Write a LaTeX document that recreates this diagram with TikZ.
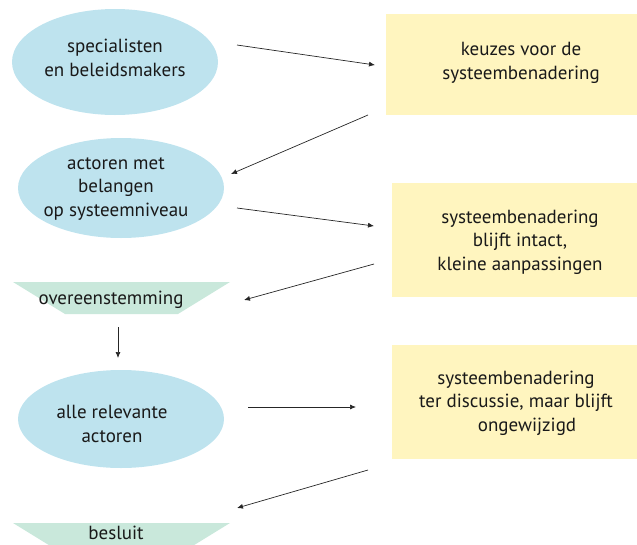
\documentclass[tikz,border=0pt]{standalone}
\usepackage{fontspec}
\setmainfont{PT Sans}
\usetikzlibrary{arrows.meta}
\definecolor{ellblue}{HTML}{BEE3EE}
\definecolor{boxyellow}{HTML}{FFF5BF}
\definecolor{trapgreen}{HTML}{C9E8DB}
\tikzset{
  lbl/.style={align=center, font=\fontsize{19}{23.5}\selectfont, text=black!90, inner sep=0pt},
  flow/.style={-{Latex[length=6pt,width=5pt]}, line width=0.7pt, black!85},
}
\begin{document}
\begin{tikzpicture}[x=1pt,y=-1pt]
\useasboundingbox (0,0) rectangle (637,544);
\clip (0,0) rectangle (637,544);

% actor ellipses
\fill[ellblue] (115,62) ellipse [x radius=103, y radius=53];
\fill[ellblue] (121,188) ellipse [x radius=103, y radius=50];
\fill[ellblue] (121,419) ellipse [x radius=103, y radius=49];

% outcome trapezia
\fill[trapgreen] (13,282) -- (230,282) -- (178,314) -- (65,314) -- cycle;
\fill[trapgreen] (13,523) -- (230,523) -- (178,555) -- (65,555) -- cycle;

% choice boxes
\fill[boxyellow] (386,14) rectangle (637,115);
\fill[boxyellow] (392,183) rectangle (637,297);
\fill[boxyellow] (392,345) rectangle (637,459);

% labels
\node[lbl] (e1) at (115,58) {specialisten\\en beleidsmakers};
\node[lbl] (e2) at (116,189) {actoren met\\belangen\\op systeemniveau};
\node[lbl] (e3) at (112,424) {alle relevante\\actoren};
\node[lbl] (t1) at (111,300) {overeenstemming};
\node[lbl] (t2) at (116,533) {besluit};
\node[lbl] (b1) at (521,63) {keuzes voor de\\systeembenadering};
\node[lbl] (b2) at (520,242) {systeembenadering\\blijft intact,\\kleine aanpassingen};
\node[lbl] (b3) at (516,403) {systeembenadering\\ter discussie, maar blijft\\\hspace*{22pt}ongewijzigd};

% connector end points
\coordinate (a1s) at (237,45);  \coordinate (a1e) at (375,65);
\coordinate (a2s) at (368,115); \coordinate (a2e) at (231,174);
\coordinate (a3s) at (237,208); \coordinate (a3e) at (374,226);
\coordinate (a4s) at (374,264); \coordinate (a4e) at (244,300);
\coordinate (d1s) at (118,327); \coordinate (d1e) at (118,358);
\coordinate (a5s) at (248,407); \coordinate (a5e) at (356,407);
\coordinate (a6s) at (368,470); \coordinate (a6e) at (237,508);

\draw[flow] (a1s) -- (a1e);
\draw[flow] (a2s) -- (a2e);
\draw[flow] (a3s) -- (a3e);
\draw[flow] (a4s) -- (a4e);
\draw[flow] (d1s) -- (d1e);
\draw[flow] (a5s) -- (a5e);
\draw[flow] (a6s) -- (a6e);
\end{tikzpicture}
\end{document}
